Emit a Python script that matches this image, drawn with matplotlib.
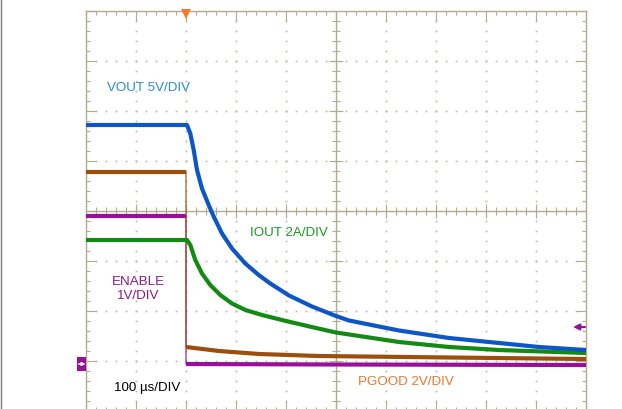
import matplotlib
matplotlib.use("Agg")
import matplotlib.pyplot as plt
import numpy as np
from matplotlib.patches import Rectangle, FancyArrowPatch
from matplotlib.lines import Line2D
from matplotlib.transforms import IdentityTransform

plt.rcParams['font.family'] = ['Liberation Sans', 'DejaVu Sans']

# time in us (trigger at 0), levels in screen divisions (0 = centre line)
vout_t = [-200, 2, 8.6, 15.4, 22, 32, 45.4, 55.4, 72, 92, 118.6, 145.4, 168.6, 206, 252, 300,
          326, 426, 526, 626, 706, 800]
vout_v = [1.72, 1.72, 1.55, 1.22, 0.82, 0.45, 0.12, -0.11, -0.45, -0.75, -1.05, -1.28, -1.45,
          -1.69, -1.91, -2.1, -2.19, -2.39, -2.54, -2.64, -2.72, -2.78]

iout_t = [-200, 2, 8.6, 18.6, 32, 48.6, 68.6, 92, 118.6, 152, 200, 260, 300, 426, 526, 626, 800]
iout_v = [-0.58, -0.58, -0.68, -0.98, -1.25, -1.48, -1.68, -1.85, -1.98, -2.08, -2.2, -2.34,
          -2.43, -2.62, -2.72, -2.78, -2.84]

pgood_t = [-200, 0, 0, 66, 146, 266, 526, 800]
pgood_v = [0.78, 0.78, -2.72, -2.8, -2.86, -2.9, -2.93, -2.96]

enable_t = [-200, 0, 0, 300, 800]
enable_v = [-0.1, -0.1, -3.06, -3.07, -3.08]

FRAME = '#b4aa8e'
DOT = '#bdb5a3'

fig = plt.figure(figsize=(6.22, 4.09), dpi=100)
ax = fig.add_axes([86 / 622, -2 / 409, 500 / 622, 400 / 409])
ax.set_xlim(-200, 800)
ax.set_ylim(-4, 4)

for s in ax.spines.values():
    s.set_color(FRAME)
    s.set_linewidth(1.0)
ax.set_xticks(np.arange(-200, 801, 100))
ax.set_xticks(np.arange(-200, 801, 20), minor=True)
ax.set_yticks(np.arange(-4, 4.1, 1))
ax.set_yticks(np.arange(-4, 4.1, 0.2), minor=True)
ax.tick_params(which='both', direction='in', top=True, right=True, bottom=True, left=True,
               labelleft=False, labelbottom=False, color=FRAME, width=0.8)
ax.tick_params(which='major', length=7.2)
ax.tick_params(which='minor', length=2.9)

# dotted graticule
for x in np.arange(-100, 800, 100):
    if x == 300:
        continue
    ys = np.arange(-4, 4.01, 0.2)
    ax.plot(np.full_like(ys, x), ys, 's', ms=1.2, color=DOT, mew=0, zorder=1)
for y in np.arange(-3, 4, 1):
    if y == 0:
        continue
    xs = np.arange(-200, 800.1, 20)
    ax.plot(xs, np.full_like(xs, y), 's', ms=1.2, color=DOT, mew=0, zorder=1)

# centre cross with ticks
ax.axhline(0, color=FRAME, lw=1.0, zorder=1)
ax.axvline(300, color=FRAME, lw=1.0, zorder=1)
yt = np.arange(-4, 4.01, 0.2)
ax.plot(np.full_like(yt, 300), yt, '_', ms=5.8, mew=0.8, color=FRAME, zorder=1)
ax.plot(np.full(7, 300), np.arange(-3, 4, 1), '_', ms=10, mew=0.8, color=FRAME, zorder=1)
xt = np.arange(-200, 800.1, 20)
ax.plot(xt, np.zeros_like(xt), '|', ms=5.8, mew=0.8, color=FRAME, zorder=1)
ax.plot(np.arange(-100, 800, 100), np.zeros(9), '|', ms=10, mew=0.8, color=FRAME, zorder=1)


def trace(t, v, color, lw):
    t = list(t)
    v = list(v)
    ax.plot(t, v, color=color, lw=0.8, zorder=3, solid_capstyle='butt')
    start = 0
    for i in range(1, len(t) + 1):
        if i == len(t) or t[i] == t[i - 1]:
            ax.plot(t[start:i], v[start:i], color=color, lw=lw, zorder=3,
                    solid_capstyle='butt', solid_joinstyle='round')
            start = i


trace(enable_t, enable_v, '#9a0f9a', 3.0)
trace(pgood_t, pgood_v, '#9c4f0c', 3.0)
trace(iout_t, iout_v, '#138a13', 3.0)
trace(vout_t, vout_v, '#0d56c6', 3.0)

# labels
fs = 9.6
ax.text(-158, 2.46, 'VOUT 5V/DIV', color='#2a8ad4', fontsize=fs, ha='left', va='center')
ax.text(128, -0.44, 'IOUT 2A/DIV', color='#1a9a1a', fontsize=fs, ha='left', va='center')
ax.text(-96, -1.56, 'ENABLE\n1V/DIV', color='#8b1a8b', fontsize=fs, ha='center', va='center',
        multialignment='center', linespacing=1.25)
ax.text(-144, -3.54, '100 \u00b5s/DIV', color='black', fontsize=fs, ha='left', va='center')
ax.text(344, -3.42, 'PGOOD 2V/DIV', color='#e8782a', fontsize=fs, ha='left', va='center')

# trigger marker
ax.plot([0], [3.95], marker='v', ms=7, color='#f57a2a', mew=0, clip_on=False, zorder=5)

# channel markers
fig.add_artist(Rectangle((77 / 622, 1 - 371 / 409), 9 / 622, 14 / 409, transform=fig.transFigure,
                         facecolor='#9b109b', edgecolor='none', zorder=2))
fig.add_artist(FancyArrowPatch((78.5, 409 - 364), (85.5, 409 - 364), transform=IdentityTransform(),
                               arrowstyle='-|>', color='white', lw=1.0, mutation_scale=5,
                               shrinkA=0, shrinkB=0, zorder=3))
ax.annotate('', xy=(774, -2.32), xytext=(798, -2.32),
            arrowprops=dict(arrowstyle='-|>', color='#9b109b', lw=1.5, mutation_scale=9,
                            shrinkA=0, shrinkB=0))

fig.add_artist(Line2D([0.8 / 622, 0.8 / 622], [0, 1], transform=fig.transFigure,
                      color='#7a7a7a', lw=1.0))

fig.savefig('out.png', dpi=100)
